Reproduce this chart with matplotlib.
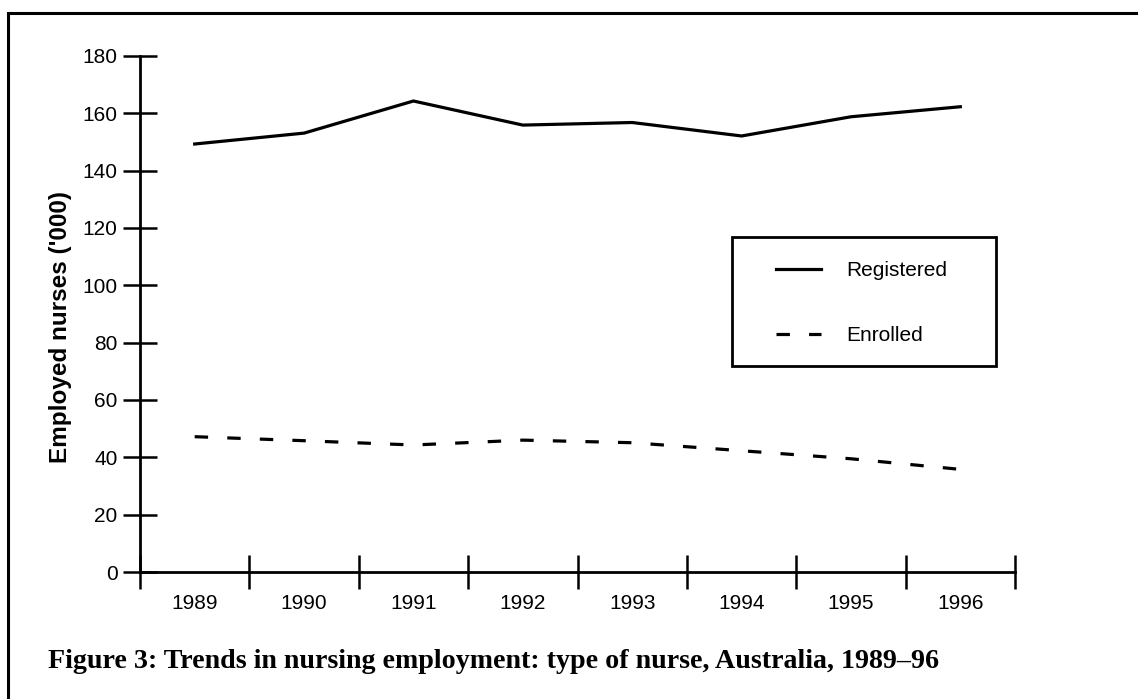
import matplotlib
matplotlib.use("Agg")
import matplotlib.pyplot as plt
from matplotlib.patches import Rectangle
from matplotlib.ticker import FixedLocator, NullFormatter, FixedFormatter

years = ["1989", "1990", "1991", "1992", "1993", "1994", "1995", "1996"]
registered = [149.3, 153.1, 164.3, 155.9, 156.8, 152.1, 158.8, 162.3]
enrolled = [47.2, 45.8, 44.3, 46.0, 45.1, 42.3, 39.5, 35.8]
yticks = [0, 20, 40, 60, 80, 100, 120, 140, 160, 180]
title = "Figure 3: Trends in nursing employment: type of nurse, Australia, 1989\u201396"
ylabel = "Employed nurses ('000)"

W, H = 1138, 699
fig = plt.figure(figsize=(W / 100, H / 100), dpi=100)
plt.rcParams['font.family'] = ['Liberation Sans', 'DejaVu Sans']

ax = fig.add_axes([140 / W, 1 - 572 / H, (1015 - 140) / W, (572 - 56) / H])
x = list(range(len(years)))
ax.plot(x, registered, color='black', lw=2.3, label='Registered', solid_joinstyle='miter')
ax.plot(x, enrolled, color='black', lw=2.3, label='Enrolled', dashes=(4.2, 6.0))

ax.set_xlim(-0.5, len(years) - 0.5)
ax.set_ylim(0, 180)
for s in ['top', 'right']:
    ax.spines[s].set_visible(False)
for s in ['left', 'bottom']:
    ax.spines[s].set_linewidth(2.0)

ax.set_yticks(yticks)
ax.tick_params(axis='y', direction='inout', length=24.5, width=1.8, pad=4, labelsize=15)
ax.xaxis.set_major_locator(FixedLocator([i - 0.5 for i in range(len(years) + 1)]))
ax.xaxis.set_major_formatter(NullFormatter())
ax.xaxis.set_minor_locator(FixedLocator(x))
ax.xaxis.set_minor_formatter(FixedFormatter(years))
ax.tick_params(axis='x', which='major', direction='inout', length=24.5, width=1.8)
ax.tick_params(axis='x', which='minor', length=0, pad=16, labelsize=15)

fig.text(61 / W, 1 - 327 / H, ylabel, rotation=90, ha='center', va='center',
         fontsize=17.5, fontweight='bold')

leg = ax.legend(loc='upper left', bbox_to_anchor=(776 / W, 1 - 261 / H),
                bbox_transform=fig.transFigure, frameon=False, borderpad=0,
                borderaxespad=0, handlelength=2.15, handletextpad=1.2,
                labelspacing=2.2, fontsize=15)
fig.patches.append(Rectangle((732 / W, 1 - 366 / H), (996 - 732) / W, (366 - 237) / H,
                             transform=fig.transFigure, fill=False, lw=2.0,
                             edgecolor='black'))

fig.text(48 / W, 1 - 668 / H, title, ha='left', va='baseline',
         family=['Liberation Serif', 'DejaVu Serif'], fontweight='bold', fontsize=20.2)

fig.patches.append(Rectangle((8 / W, -0.05), 1.1, 1.05 - 13 / H,
                             transform=fig.transFigure, fill=False, lw=2.2,
                             edgecolor='black', clip_on=False))

fig.savefig("out.png", dpi=100)
